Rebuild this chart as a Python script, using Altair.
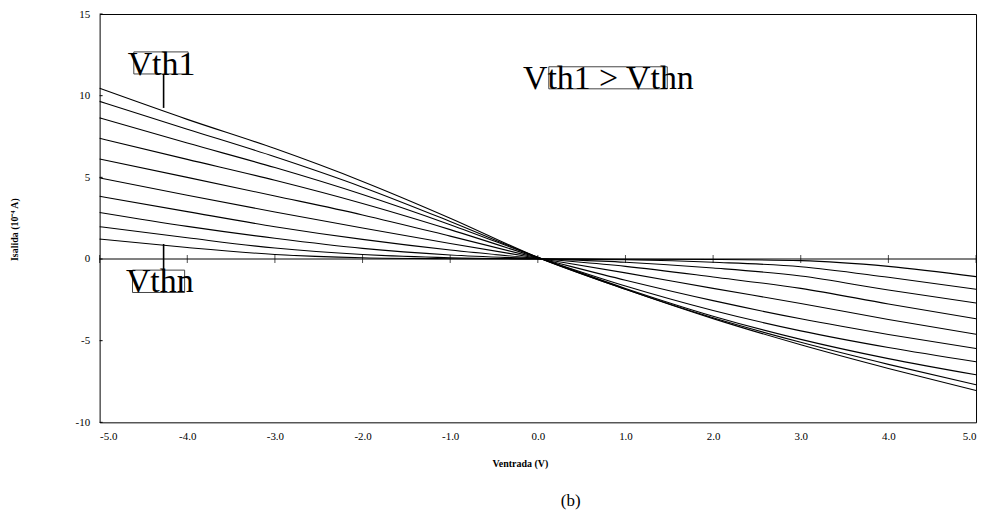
import altair as alt
import pandas as pd

# Input voltage sample points (V)
v_points = [-5, -4, -3, -2, -1, 0, 1, 2, 3, 4, 5]

# Output current (10^-4 A) for the ten threshold voltages, Vth1 ... Vthn
curve_1 = [10.45, 8.55, 6.76, 4.75, 2.50, 0.10, -1.85, -3.65, -5.25, -6.70, -8.05]
curve_2 = [9.65, 7.95, 6.26, 4.40, 2.30, 0.10, -1.85, -3.60, -5.10, -6.45, -7.70]
curve_3 = [8.64, 7.10, 5.60, 3.95, 2.10, 0.10, -1.80, -3.50, -4.92, -6.10, -7.09]
curve_4 = [7.39, 6.10, 4.82, 3.40, 1.80, 0.08, -1.65, -3.15, -4.40, -5.42, -6.29]
curve_5 = [6.12, 5.00, 3.86, 2.70, 1.40, 0.06, -1.30, -2.55, -3.66, -4.62, -5.48]
curve_6 = [4.97, 3.90, 2.88, 1.90, 0.95, 0.05, -0.85, -1.80, -2.72, -3.70, -4.61]
curve_7 = [3.84, 2.90, 1.98, 1.20, 0.55, 0.03, -0.45, -1.10, -1.80, -2.75, -3.66]
curve_8 = [2.85, 2.00, 1.27, 0.65, 0.25, 0.02, -0.20, -0.55, -1.04, -1.90, -2.69]
curve_9 = [1.98, 1.30, 0.67, 0.28, 0.08, 0.01, -0.05, -0.20, -0.47, -1.12, -1.85]
curve_10 = [1.22, 0.70, 0.28, 0.08, 0.02, 0.00, -0.01, -0.03, -0.10, -0.45, -1.08]

curves = [curve_1, curve_2, curve_3, curve_4, curve_5,
          curve_6, curve_7, curve_8, curve_9, curve_10]

x_ticks = [-5, -4, -3, -2, -1, 0, 1, 2, 3, 4, 5]
y_ticks = [-10, -5, 0, 5, 10, 15]

# Annotations
label_texts = ["Vth1", "Vthn", "Vth1 > Vthn"]
label_x = [-4.68, -4.70, -0.17]
label_y = [11.27, -2.05, 10.42]

box_x1 = [-4.61, -4.625, 0.125]
box_x2 = [-3.99, -4.03, 1.477]
box_y1 = [12.68, -0.68, 11.77]
box_y2 = [11.33, -2.05, 10.42]

pointer_x = [-4.27, -4.27]
pointer_y1 = [11.27, 0.92]
pointer_y2 = [9.25, -2.05]

rows = []
for i, c in enumerate(curves):
    for v, val in zip(v_points, c):
        rows.append({"curve": i + 1, "V": v, "I": val})
df = pd.DataFrame(rows)

serif = "Liberation Serif"
xscale = alt.Scale(domain=[-5, 5], nice=False, zero=False)
yscale = alt.Scale(domain=[-10, 15], nice=False, zero=False)

x_label_expr = "datum.value < 0 ? '-' + format(-datum.value, '.1f') : format(datum.value, '.1f')"
y_label_expr = "datum.value < 0 ? '-' + format(-datum.value, 'd') : format(datum.value, 'd')"

lines = alt.Chart(df).mark_line(color="black", strokeWidth=1.1, interpolate="monotone").encode(
    x=alt.X("V:Q", scale=xscale,
            axis=alt.Axis(values=x_ticks, labelExpr=x_label_expr, ticks=False, grid=False, domain=False,
                          labelFont=serif, labelFontSize=11, labelColor="black", labelPadding=8,
                          title="Ventrada (V)", titleFont=serif, titleFontSize=10,
                          titleFontWeight="bold", titleColor="black",
                          titleX=422, titleY=41, titleBaseline="middle")),
    y=alt.Y("I:Q", scale=yscale,
            axis=alt.Axis(values=y_ticks, labelExpr=y_label_expr, ticks=False, grid=False, domain=False,
                          labelFont=serif, labelFontSize=11, labelColor="black", labelPadding=10,
                          title="Isalida (10⁻⁴ A)", titleFont=serif, titleFontSize=10,
                          titleFontWeight="bold", titleColor="black",
                          titleX=-85, titleY=216, titleAngle=-90,
                          titleAlign="center", titleBaseline="middle")),
    detail="curve:N",
)

zero_line = alt.Chart(pd.DataFrame({"y": [0]})).mark_rule(color="black", strokeWidth=1).encode(
    y=alt.Y("y:Q", scale=yscale)
)

xt = alt.Chart(pd.DataFrame({"V": x_ticks, "y": [0] * len(x_ticks)})).mark_tick(
    orient="vertical", size=8, thickness=1, color="black"
).encode(x=alt.X("V:Q", scale=xscale), y=alt.Y("y:Q", scale=yscale))

yt = alt.Chart(pd.DataFrame({"y": y_ticks})).mark_rule(color="black", strokeWidth=1).encode(
    y=alt.Y("y:Q", scale=yscale), x=alt.value(0), x2=alt.value(3)
)

ann = pd.DataFrame({"t": label_texts, "x": label_x, "y": label_y})
texts = alt.Chart(ann).mark_text(
    font=serif, fontSize=34, align="left", baseline="alphabetic", color="black"
).encode(x=alt.X("x:Q", scale=xscale), y=alt.Y("y:Q", scale=yscale), text="t:N")

boxes = alt.Chart(pd.DataFrame({"x1": box_x1, "x2": box_x2, "y1": box_y1, "y2": box_y2})).mark_rect(
    fill=None, fillOpacity=0, stroke="#444444", strokeWidth=1
).encode(x=alt.X("x1:Q", scale=xscale), x2="x2:Q",
         y=alt.Y("y1:Q", scale=yscale), y2="y2:Q")

pointers = alt.Chart(pd.DataFrame({"x": pointer_x, "y1": pointer_y1, "y2": pointer_y2})).mark_rule(
    color="black", strokeWidth=1.6
).encode(x=alt.X("x:Q", scale=xscale), y=alt.Y("y1:Q", scale=yscale), y2="y2:Q")

caption = alt.Chart(pd.DataFrame({"t": ["(b)"]})).mark_text(
    font=serif, fontSize=17, align="center", baseline="middle", color="black"
).encode(x=alt.value(473), y=alt.value(489), text="t:N")

chart = alt.layer(zero_line, xt, yt, lines, boxes, texts, pointers, caption).properties(
    width=880, height=410,
    autosize=alt.AutoSizeParams(type="none"),
    padding={"left": 92, "top": 5, "right": 8, "bottom": 92},
    background="white",
).configure_view(stroke="black", strokeWidth=1)

chart.save("out.html", embed_options={"renderer": "svg", "actions": False})
